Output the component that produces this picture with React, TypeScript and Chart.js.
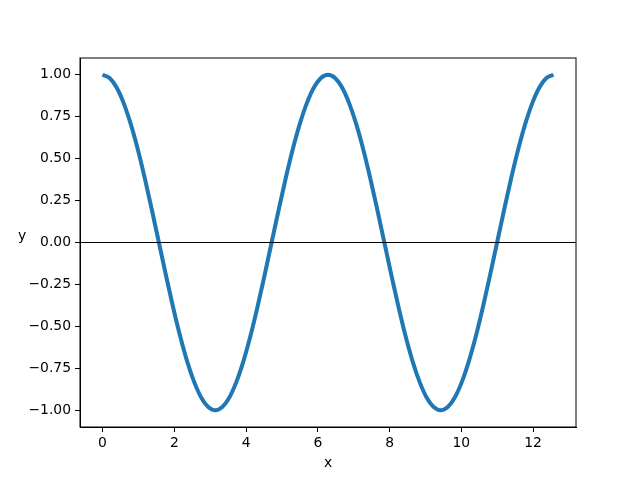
import { useEffect, useRef } from "react";
import { Chart, registerables, type ChartConfiguration } from "chart.js";

Chart.register(...registerables);

const xs = [
  0.0, 0.196, 0.393, 0.589, 0.785, 0.982, 1.178, 1.374, 1.571, 1.767,
  1.963, 2.16, 2.356, 2.553, 2.749, 2.945, 3.142, 3.338, 3.534, 3.731,
  3.927, 4.123, 4.32, 4.516, 4.712, 4.909, 5.105, 5.301, 5.498, 5.694,
  5.89, 6.087, 6.283, 6.48, 6.676, 6.872, 7.069, 7.265, 7.461, 7.658,
  7.854, 8.05, 8.247, 8.443, 8.639, 8.836, 9.032, 9.228, 9.425, 9.621,
  9.817, 10.014, 10.21, 10.407, 10.603, 10.799, 10.996, 11.192, 11.388, 11.585,
  11.781, 11.977, 12.174, 12.37, 12.566,
];
const ys = [
  1.0, 0.981, 0.924, 0.831, 0.707, 0.556, 0.383, 0.195, 0.0, -0.195,
  -0.383, -0.556, -0.707, -0.831, -0.924, -0.981, -1.0, -0.981, -0.924, -0.831,
  -0.707, -0.556, -0.383, -0.195, 0.0, 0.195, 0.383, 0.556, 0.707, 0.831,
  0.924, 0.981, 1.0, 0.981, 0.924, 0.831, 0.707, 0.556, 0.383, 0.195,
  0.0, -0.195, -0.383, -0.556, -0.707, -0.831, -0.924, -0.981, -1.0, -0.981,
  -0.924, -0.831, -0.707, -0.556, -0.383, -0.195, 0.0, 0.195, 0.383, 0.556,
  0.707, 0.831, 0.924, 0.981, 1.0,
];
const xTicks = [0, 2, 4, 6, 8, 10, 12];
const yTicks = [-1, -0.75, -0.5, -0.25, 0, 0.25, 0.5, 0.75, 1];
const X_MIN = -0.628;
const X_MAX = 13.195;

const FONT = { family: "DejaVu Sans", size: 13.9 };

const fmt = (v: number) => {
  const s = Math.abs(v).toFixed(2);
  return v < 0 ? "\u2212" + s : s;
};

const framePlugin = {
  id: "frame",
  afterDraw(chart: Chart) {
    const { ctx, chartArea: a } = chart;
    ctx.save();
    ctx.strokeStyle = "#000";
    ctx.lineWidth = 1;
    ctx.strokeRect(a.left, a.top, a.right - a.left, a.bottom - a.top);
    ctx.fillStyle = "#000";
    ctx.font = "13.9px 'DejaVu Sans'";
    ctx.textAlign = "center";
    ctx.textBaseline = "middle";
    ctx.fillText("y", 22, 236);
    ctx.restore();
  },
};

export default function App() {
  const canvasRef = useRef<HTMLCanvasElement>(null);

  useEffect(() => {
    if (!canvasRef.current) return;
    const cfg: ChartConfiguration = {
      type: "scatter",
      data: {
        datasets: [
          {
            label: "y=0",
            data: [
              { x: X_MIN, y: 0 },
              { x: X_MAX, y: 0 },
            ],
            showLine: true,
            borderColor: "#000000",
            borderWidth: 1,
            pointRadius: 0,
          },
          {
            label: "cos",
            data: xs.map((x, i) => ({ x, y: ys[i] })),
            showLine: true,
            borderColor: "#1f77b4",
            borderWidth: 4,
            cubicInterpolationMode: "monotone",
            pointRadius: 0,
          },
        ],
      },
      options: {
        responsive: false,
        animation: false,
        devicePixelRatio: 1,
        layout: { padding: { top: 58, right: 64, left: 0, bottom: 0 } },
        plugins: { legend: { display: false }, tooltip: { enabled: false } },
        scales: {
          x: {
            type: "linear",
            min: X_MIN,
            max: X_MAX,
            afterBuildTicks: (s) => {
              s.ticks = xTicks.map((value) => ({ value }));
            },
            afterFit: (s) => {
              s.height = 53;
            },
            grid: {
              drawOnChartArea: false,
              drawTicks: true,
              tickLength: 5,
              tickColor: "#000",
            },
            border: { color: "#000" },
            ticks: { color: "#000", font: FONT, padding: 3, maxRotation: 0 },
            title: {
              display: true,
              text: "x",
              color: "#000",
              font: FONT,
              padding: { top: 0, bottom: 8 },
            },
          },
          y: {
            type: "linear",
            min: -1.1,
            max: 1.1,
            afterBuildTicks: (s) => {
              s.ticks = yTicks.map((value) => ({ value }));
            },
            afterFit: (s) => {
              s.width = 80;
            },
            grid: {
              drawOnChartArea: false,
              drawTicks: true,
              tickLength: 5,
              tickColor: "#000",
            },
            border: { color: "#000" },
            ticks: {
              color: "#000",
              font: FONT,
              padding: 4,
              callback: (v) => fmt(Number(v)),
            },
          },
        },
      },
      plugins: [framePlugin],
    };
    const chart = new Chart(canvasRef.current, cfg);
    return () => {
      chart.destroy();
    };
  }, []);

  return (
    <div style={{ position: "absolute", left: 0, top: 0, width: 640, height: 480, background: "#fff" }}>
      <canvas ref={canvasRef} width={640} height={480} />
    </div>
  );
}
